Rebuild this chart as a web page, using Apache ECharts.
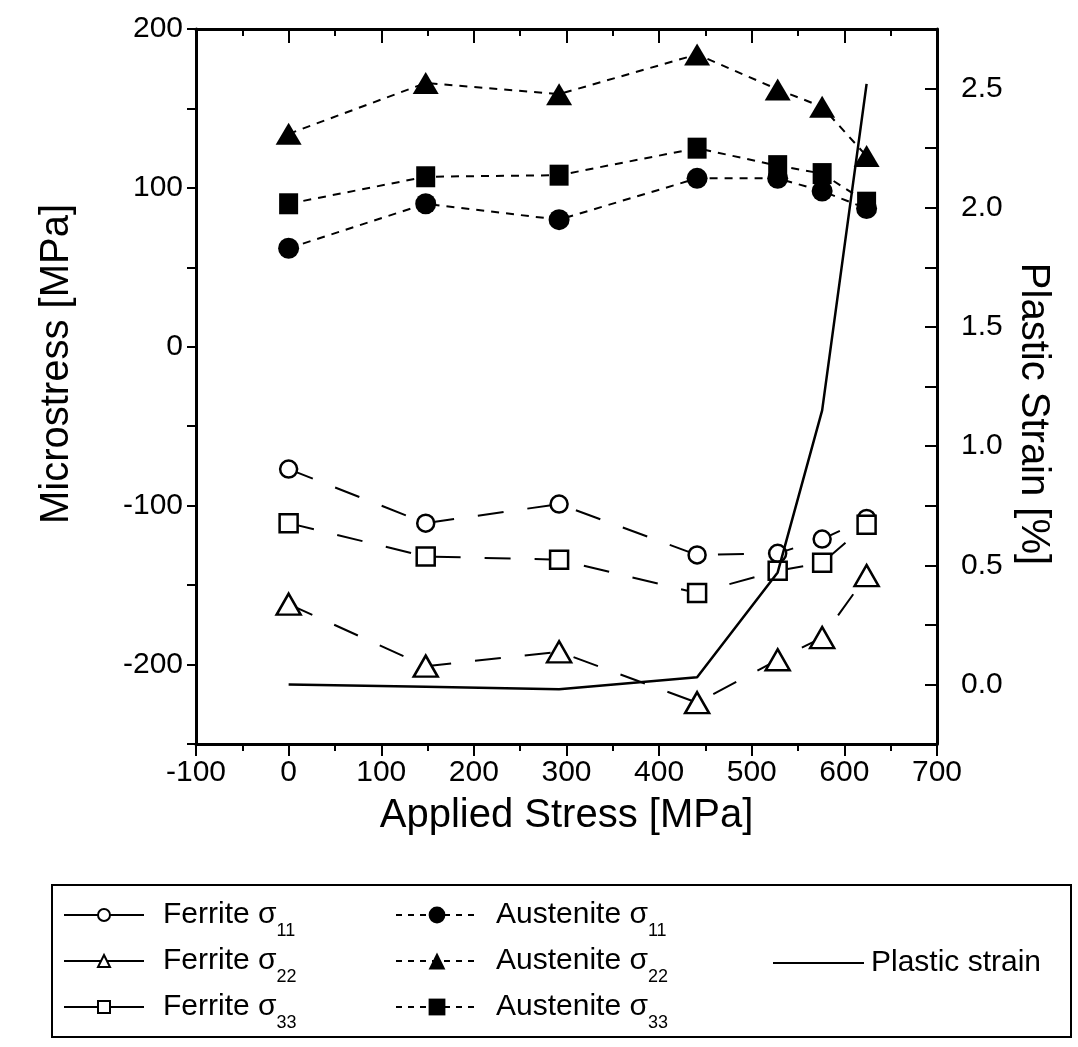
<!DOCTYPE html>
<html>
<head>
<meta charset="utf-8">
<title>Microstress vs Applied Stress</title>
<script src="https://cdn.jsdelivr.net/npm/echarts@6/dist/echarts.min.js"></script>
<style>
html, body { margin: 0; padding: 0; background: #fff; }
#chart { width: 1078px; height: 1047px; }
</style>
</head>
<body>
<div id="chart"></div>
<script>
// applied stress steps [MPa]
const appliedStress = [0, 148, 292, 441, 528, 576, 624]

// microstress [MPa]
const ferrite11 = [-77, -111, -99, -131, -130, -121, -108]
const ferrite22 = [-162, -201, -192, -224, -197, -183, -144]
const ferrite33 = [-111, -132, -134, -155, -141, -136, -112]
const austenite11 = [62, 90, 80, 106, 106, 98, 87]
const austenite22 = [134, 166, 159, 184, 162, 151, 120]
const austenite33 = [90, 107, 108, 125, 114, 109, 91]

// plastic strain [%]
const plasticStrain = [0.0, -0.01, -0.02, 0.03, 0.47, 1.15, 2.52]

// tick labels
const xTicks = [-100, 0, 100, 200, 300, 400, 500, 600, 700]
const leftTicks = [-200, -100, 0, 100, 200]
const rightTicks = [0, 0.5, 1.0, 1.5, 2.0, 2.5]

const FONT = "'Liberation Sans', Arial, Helvetica, sans-serif"

const pairs = ys => appliedStress.map((x, i) => [x, ys[i]])

// --- series helpers ---
const ferrite = (name, ys, symbol, size) => ({
  name,
  type: 'line',
  data: pairs(ys),
  symbol,
  symbolSize: size,
  lineStyle: { color: '#000', width: 2, type: [26, 24] },
  itemStyle: { color: '#fff', borderColor: '#000', borderWidth: 2.5 },
  z: 3
})
const austenite = (name, ys, symbol, size) => ({
  name,
  type: 'line',
  data: pairs(ys),
  symbol,
  symbolSize: size,
  lineStyle: { color: '#000', width: 2, type: [8, 7] },
  itemStyle: { color: '#000', borderColor: '#000', borderWidth: 0 },
  z: 3
})

// legend column, pad = extra room between icon and text
const legendCol = (names, left, top, width, height, pad, lineType) => ({
  orient: 'vertical',
  left,
  top,
  padding: 0,
  itemGap: 6,
  itemWidth: width,
  itemHeight: height,
  selectedMode: false,
  data: names,
  lineStyle: { type: lineType, width: 2 },
  formatter (name) {
    const m = name.match(/^(.*σ)(\d+)$/)
    return m ? '{a|' + m[1] + '}{b|' + m[2] + '}' : '{a|' + name + '}'
  },
  textStyle: {
    color: '#000',
    fontFamily: FONT,
    fontSize: 30,
    rich: {
      a: { fontSize: 30, fontFamily: FONT, color: '#000', lineHeight: 50, padding: [0, 0, 0, pad] },
      b: { fontSize: 18, fontFamily: FONT, color: '#000', lineHeight: 14, verticalAlign: 'bottom' }
    }
  }
})

const xAxisBase = {
  type: 'value',
  min: -100,
  max: 700,
  interval: 100,
  axisLine: { show: true, onZero: false, lineStyle: { color: '#000', width: 3 } },
  splitLine: { show: false },
  minorTick: { show: true, splitNumber: 2, length: 7, lineStyle: { color: '#000', width: 2 } }
}

const strainLegend = legendCol(['Plastic strain'], 772, 948, 91, 18, 2, 'solid')
// no marker on the strain legend icon, only the line
strainLegend.itemStyle = { color: 'rgba(0,0,0,0)', borderColor: 'rgba(0,0,0,0)', borderWidth: 0 }

const option = {
  animation: false,
  backgroundColor: '#fff',
  grid: { left: 196, right: 141, top: 29, bottom: 303 },
  xAxis: [
    Object.assign({}, xAxisBase, {
      position: 'bottom',
      name: 'Applied Stress [MPa]',
      nameLocation: 'middle',
      nameGap: 52,
      nameTextStyle: { fontFamily: FONT, fontSize: 40, color: '#000' },
      axisTick: { show: true, inside: false, length: 12, lineStyle: { color: '#000', width: 2 } },
      axisLabel: {
        show: true,
        margin: 14,
        fontFamily: FONT,
        fontSize: 30,
        color: '#000',
        formatter: v => (xTicks.includes(v) ? String(v) : '')
      }
    }),
    Object.assign({}, xAxisBase, {
      position: 'top',
      axisTick: { show: true, inside: true, length: 14, lineStyle: { color: '#000', width: 2 } },
      axisLabel: { show: false }
    })
  ],
  yAxis: [
    {
      type: 'value',
      position: 'left',
      min: -250,
      max: 200,
      interval: 50,
      axisLine: { show: true, onZero: false, lineStyle: { color: '#000', width: 3 } },
      axisTick: { show: true, inside: false, length: 9, lineStyle: { color: '#000', width: 2 } },
      splitLine: { show: false },
      axisLabel: {
        margin: 13,
        fontFamily: FONT,
        fontSize: 30,
        color: '#000',
        formatter: v => (leftTicks.includes(v) ? String(v) : '')
      }
    },
    {
      type: 'value',
      position: 'right',
      min: -0.25,
      max: 2.75,
      interval: 0.25,
      axisLine: { show: true, onZero: false, lineStyle: { color: '#000', width: 3 } },
      axisTick: { show: true, inside: true, length: 12, lineStyle: { color: '#000', width: 2 } },
      splitLine: { show: false },
      axisLabel: {
        margin: 24,
        fontFamily: FONT,
        fontSize: 30,
        color: '#000',
        formatter: v => (rightTicks.some(t => Math.abs(t - v) < 1e-9) ? v.toFixed(1) : '')
      }
    }
  ],
  legend: [
    legendCol(['Ferrite σ11', 'Ferrite σ22', 'Ferrite σ33'], 63, 900, 80, 15, 14, 'solid'),
    legendCol(['Austenite σ11', 'Austenite σ22', 'Austenite σ33'], 395, 900, 82, 21, 13, [6, 6]),
    strainLegend
  ],
  graphic: [
    {
      type: 'text',
      x: 57,
      y: 364,
      rotation: Math.PI / 2,
      style: { text: 'Microstress [MPa]', font: '40px ' + FONT, fill: '#000', align: 'center', verticalAlign: 'middle' }
    },
    {
      type: 'text',
      x: 1033,
      y: 414,
      rotation: -Math.PI / 2,
      style: { text: 'Plastic Strain [%]', font: '40px ' + FONT, fill: '#000', align: 'center', verticalAlign: 'middle' }
    },
    {
      type: 'rect',
      shape: { x: 52, y: 885, width: 1019, height: 152 },
      style: { fill: 'none', stroke: '#000', lineWidth: 2 },
      silent: true
    }
  ],
  series: [
    ferrite('Ferrite σ11', ferrite11, 'circle', 17),
    ferrite('Ferrite σ22', ferrite22, 'triangle', [24, 21]),
    ferrite('Ferrite σ33', ferrite33, 'rect', 18),
    austenite('Austenite σ11', austenite11, 'circle', 21),
    austenite('Austenite σ22', austenite22, 'triangle', [26, 22]),
    austenite('Austenite σ33', austenite33, 'rect', [19, 21]),
    {
      name: 'Plastic strain',
      type: 'line',
      yAxisIndex: 1,
      data: pairs(plasticStrain),
      symbol: 'none',
      lineStyle: { color: '#000', width: 2.5, type: 'solid' },
      itemStyle: { color: '#000' },
      z: 4
    }
  ]
}

const chart = echarts.init(document.getElementById('chart'))
chart.setOption(option)
</script>
</body>
</html>
